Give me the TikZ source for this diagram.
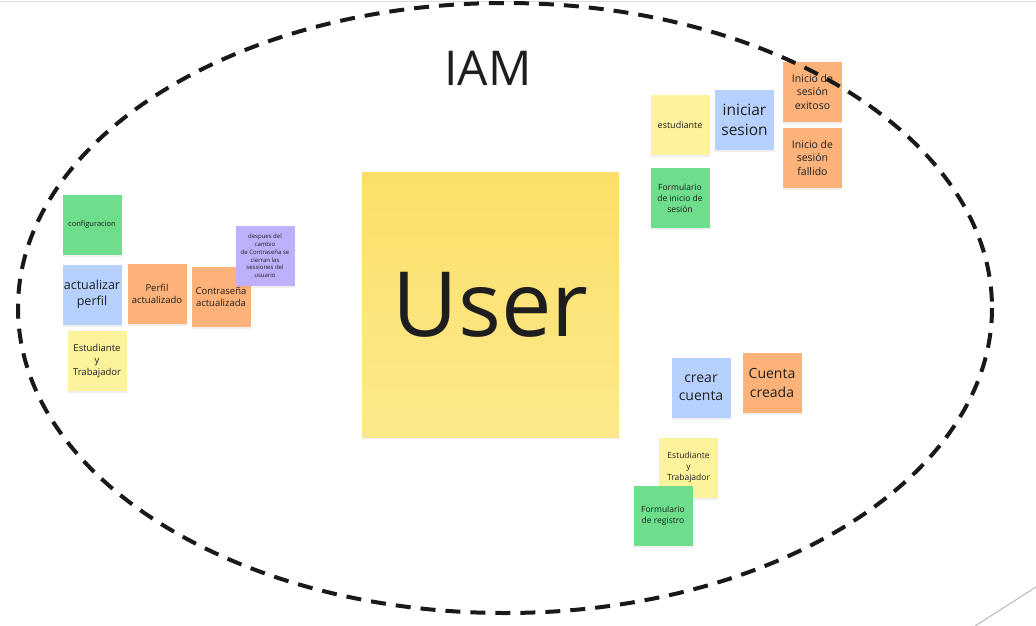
\documentclass[tikz,border=0pt]{standalone}
\usepackage{fontspec}
\setmainfont{Open Sans}
\usetikzlibrary{shadows}
\definecolor{ngreen}{RGB}{110,221,140}
\definecolor{nblue}{RGB}{183,209,254}
\definecolor{norange}{RGB}{253,178,122}
\definecolor{nyellow}{RGB}{253,243,156}
\definecolor{npurple}{RGB}{190,176,250}
\definecolor{bigyellow}{RGB}{252,228,110}
\definecolor{txt}{RGB}{30,30,30}
\newcommand{\fs}[1]{\fontsize{#1}{1.3\dimexpr#1pt\relax}\selectfont}
\tikzset{
  note/.style={rectangle, draw=none, inner sep=1pt, align=center, text=txt,
    drop shadow={opacity=0.12, shadow xshift=0pt, shadow yshift=-2pt}},
  sq/.style={note, minimum width=59pt, minimum height=60pt},
}
\begin{document}
\begin{tikzpicture}[x=1pt,y=-1pt]
\path[fill=white] (0,0) rectangle (1036,626);
\useasboundingbox (0,0) rectangle (1036,626);
\draw[black!14, line width=1pt] (0,2) -- (1036,2);
\coordinate (g1) at (975,626);
\coordinate (g2) at (1036,587);
\draw[black!28, line width=1pt] (g1) -- (g2);

% big note
\node[note, minimum width=257pt, minimum height=265pt, top color=bigyellow!95!orange, bottom color=bigyellow!80!white, font=\fs{90}] (user) at (490.5,304.5) {User};
\node[font=\fs{48}, text=txt] (iam) at (488,68) {IAM};

% left group
\node[sq, fill=ngreen, font=\fs{7.5}] (conf) at (92,224.5) {configuracion};
\node[sq, fill=nblue, font=\fs{12.5}] (act) at (92,294.5) {actualizar\\perfil};
\node[sq, fill=norange, font=\fs{9.5}] (perf) at (157,294) {Perfil\\actualizado};
\node[sq, fill=norange, font=\fs{9.5}] (contra) at (221,297) {Contraseña\\actualizada};
\node[sq, fill=npurple, font=\fs{6}] (desp) at (265,256) {despues del\\cambio\\de Contraseña se\\cierran las\\sessiones del\\usuario};
\node[sq, fill=nyellow, font=\fs{9.5}] (est1) at (97,361) {Estudiante\\y\\Trabajador};

% top right group
\node[sq, fill=nyellow, font=\fs{9}] (est2) at (680,125) {estudiante};
\node[sq, fill=nblue, font=\fs{15.5}] (ini) at (744.5,119.5) {iniciar\\sesion};
\node[sq, fill=norange, font=\fs{10.5}] (exi) at (812.5,92) {Inicio de\\sesión\\exitoso};
\node[sq, fill=norange, font=\fs{10.5}] (fal) at (812.5,158) {Inicio de\\sesión\\fallido};
\node[sq, fill=ngreen, font=\fs{8.5}] (form1) at (680,198) {Formulario\\de inicio de\\sesión};

% bottom right group
\node[sq, fill=nblue, font=\fs{14}] (crear) at (701,387.5) {crear\\cuenta};
\node[sq, fill=norange, font=\fs{14}] (creada) at (772,383) {Cuenta\\creada};
\node[sq, fill=nyellow, font=\fs{8.5}] (est3) at (688.5,467.5) {Estudiante\\y\\Trabajador};
\node[sq, fill=ngreen, font=\fs{8.5}] (form2) at (663,516) {Formulario\\de registro};

% dashed boundary
\draw[black!90, line width=4pt, dash pattern=on 15pt off 10pt] (505,308) ellipse [x radius=487, y radius=305];
\end{tikzpicture}
\end{document}
